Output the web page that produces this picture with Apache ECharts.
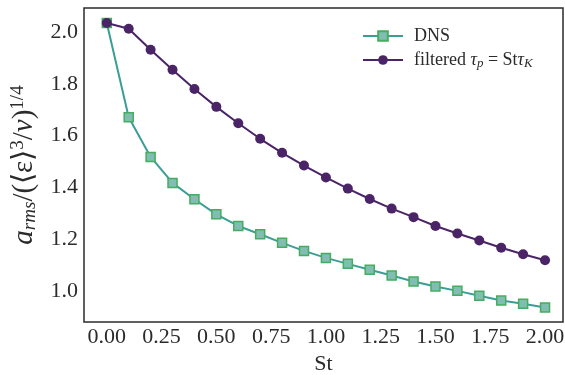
<!DOCTYPE html>
<html>
<head>
<meta charset="utf-8">
<script src="https://cdn.jsdelivr.net/npm/echarts@6/dist/echarts.min.js"></script>
<style>
  html, body { margin: 0; padding: 0; background: #fff; }
  #chart { width: 565px; height: 375px; }
</style>
</head>
<body>
<div id="chart"></div>
<script>
// Stokes numbers
const st = [0.0, 0.1, 0.2, 0.3, 0.4, 0.5, 0.6, 0.7, 0.8, 0.9, 1.0,
            1.1, 1.2, 1.3, 1.4, 1.5, 1.6, 1.7, 1.8, 1.9, 2.0];
const dns = [2.034, 1.671, 1.518, 1.418, 1.355, 1.297, 1.252, 1.220, 1.187, 1.156, 1.129,
             1.106, 1.083, 1.061, 1.038, 1.019, 1.002, 0.983, 0.965, 0.952, 0.938];
const filtered = [2.034, 2.012, 1.931, 1.854, 1.780, 1.711, 1.648, 1.588, 1.534, 1.485, 1.439,
                  1.396, 1.356, 1.319, 1.286, 1.252, 1.223, 1.196, 1.168, 1.143, 1.120];
const xTicks = [0, 0.25, 0.5, 0.75, 1.0, 1.25, 1.5, 1.75, 2.0];
const yTicks = [1.0, 1.2, 1.4, 1.6, 1.8, 2.0];

const FONT = 'Liberation Serif';
const INK = '#2b2b2b';

const chart = echarts.init(document.getElementById('chart'));

const option = {
  animation: false,
  backgroundColor: '#fff',
  grid: {
    left: 84, right: 2, top: 8, bottom: 53,
    outerBoundsMode: 'none', containLabel: false,
    show: true, borderColor: INK, borderWidth: 1.5, backgroundColor: 'transparent'
  },
  legend: {
    left: 357, top: 22, orient: 'vertical',
    itemWidth: 40, itemHeight: 12, itemGap: 6,
    textStyle: {
      fontFamily: FONT, fontSize: 18, color: INK, padding: [0, 0, 0, 6],
      rich: {
        n: { fontFamily: FONT, fontSize: 18, color: INK },
        i: { fontFamily: FONT, fontSize: 18, fontStyle: 'italic', color: INK },
        s: { fontFamily: FONT, fontSize: 13, fontStyle: 'italic', color: INK, verticalAlign: 'bottom', padding: [7, 0, 0, 0] }
      }
    },
    formatter: name => name === 'DNS' ? '{n|DNS}' : '{n|filtered }{i|τ}{s|p}{n| = St}{i|τ}{s|K}',
    data: ['DNS', 'filtered']
  },
  xAxis: {
    type: 'value', min: -0.104, max: 2.082,
    name: 'St', nameLocation: 'middle', nameGap: 28,
    nameTextStyle: { fontFamily: FONT, fontSize: 22, color: INK },
    axisLine: { show: false }, axisTick: { show: false }, splitLine: { show: false },
    axisLabel: {
      customValues: xTicks, fontFamily: FONT, fontSize: 22, color: INK, margin: 4,
      formatter: v => v.toFixed(2)
    }
  },
  yAxis: {
    type: 'value', min: 0.882, max: 2.092,
    name: '{i|a}{s|rms}{n|/(⟨ε⟩}{p|3}{n|/}{i|ν}{n|)}{p|1/4}',
    nameLocation: 'middle', nameGap: 40, nameRotate: 90,
    nameTextStyle: {
      rich: {
        n: { fontFamily: FONT, fontSize: 29, color: INK },
        i: { fontFamily: FONT, fontSize: 29, fontStyle: 'italic', color: INK },
        s: { fontFamily: FONT, fontSize: 19, fontStyle: 'italic', color: INK, verticalAlign: 'bottom', padding: [12, 0, 0, 0] },
        p: { fontFamily: FONT, fontSize: 19, color: INK, verticalAlign: 'top', padding: [0, 0, 12, 0] }
      }
    },
    axisLine: { show: false }, axisTick: { show: false }, splitLine: { show: false },
    axisLabel: {
      customValues: yTicks, fontFamily: FONT, fontSize: 22, color: INK, margin: 6,
      formatter: v => v.toFixed(1)
    }
  },
  series: [
    {
      name: 'DNS', type: 'line',
      data: st.map((x, i) => [x, dns[i]]),
      symbol: 'rect', symbolSize: 9,
      lineStyle: { color: '#3a9e97', width: 2 },
      itemStyle: { color: '#82bdb4', borderColor: '#44ad5e', borderWidth: 1.5 },
      z: 2
    },
    {
      name: 'filtered', type: 'line',
      data: st.map((x, i) => [x, filtered[i]]),
      symbol: 'circle', symbolSize: 10,
      lineStyle: { color: '#4a2467', width: 2 },
      itemStyle: { color: '#4a2467', borderWidth: 0 },
      z: 3
    }
  ]
};

chart.setOption(option);
</script>
</body>
</html>
